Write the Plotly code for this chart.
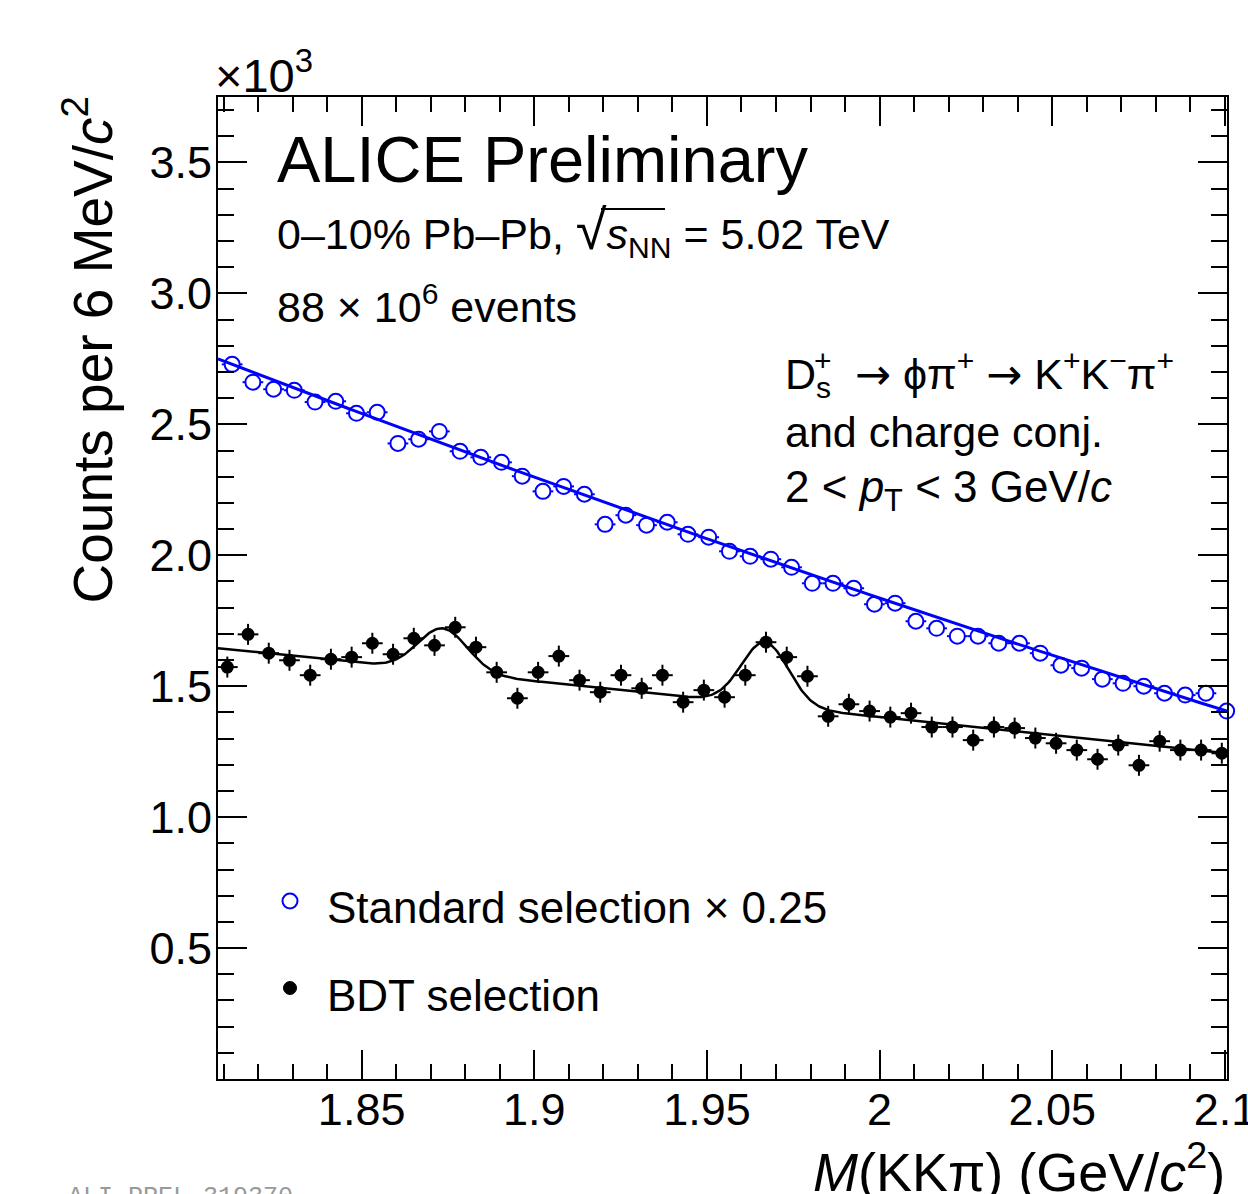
import numpy as np
import plotly.graph_objects as go

# ---------------- data (counts in units of 10^3 per 6 MeV/c^2) ----------------
bin_width = 0.006
blue_first_center = 1.8125
black_first_center = 1.8111

blue_counts = [2.729, 2.661, 2.634, 2.630, 2.585, 2.588, 2.542, 2.546, 2.427, 2.443,
               2.473, 2.397, 2.374, 2.355, 2.302, 2.244, 2.263, 2.233, 2.118, 2.153,
               2.115, 2.126, 2.080, 2.069, 2.015, 1.996, 1.985, 1.954, 1.893, 1.893,
               1.874, 1.813, 1.817, 1.748, 1.721, 1.691, 1.691, 1.664, 1.664, 1.626,
               1.580, 1.569, 1.527, 1.511, 1.500, 1.473, 1.466, 1.473, 1.405]

black_counts = [1.573, 1.698, 1.626, 1.599, 1.542, 1.603, 1.611, 1.664, 1.622, 1.683,
                1.656, 1.725, 1.649, 1.553, 1.454, 1.553, 1.615, 1.523, 1.477, 1.542,
                1.492, 1.542, 1.439, 1.485, 1.458, 1.542, 1.668, 1.611, 1.538, 1.385,
                1.431, 1.405, 1.382, 1.397, 1.344, 1.344, 1.294, 1.344, 1.340, 1.302,
                1.282, 1.256, 1.221, 1.275, 1.198, 1.290, 1.256, 1.256, 1.244]

blue_err_y = 0.025
black_err_y = 0.040

# fit parameters
blue_fit_anchor_x = [1.8084, 1.962, 2.1005]
blue_fit_anchor_y = [2.750, 2.008, 1.405]
bkg_x_ref = 1.8084
bkg_at_ref = 1.645
bkg_slope = -1.372
peak_means = [1.8735, 1.9668]
peak_sigmas = [0.0072, 0.0068]
peak_amps = [0.165, 0.240]

x_tick_vals = [1.85, 1.9, 1.95, 2.0, 2.05, 2.1]
x_tick_text = ["1.85", "1.9", "1.95", "2", "2.05", "2.1"]
y_tick_vals = [0.5, 1.0, 1.5, 2.0, 2.5, 3.0, 3.5]
y_tick_text = ["0.5", "1.0", "1.5", "2.0", "2.5", "3.0", "3.5"]
x_range = [1.8084, 2.1006]
y_range = [0.0, 3.75]

legend_labels = ["Standard selection \u00d7 0.25", "BDT selection"]

# ---------------- derived ----------------
blue_x = [blue_first_center + i * bin_width for i in range(len(blue_counts))]
black_x = [black_first_center + i * bin_width for i in range(len(black_counts))]

xf = np.linspace(x_range[0], x_range[1], 600)
blue_coef = np.polyfit(blue_fit_anchor_x, blue_fit_anchor_y, 2)
blue_fit = np.polyval(blue_coef, xf)
black_fit = bkg_at_ref + bkg_slope * (xf - bkg_x_ref)
for m, s, a in zip(peak_means, peak_sigmas, peak_amps):
    black_fit = black_fit + a * np.exp(-0.5 * ((xf - m) / s) ** 2)

FONT = "Liberation Sans, Arial, Helvetica, sans-serif"
BLUE = "#0000ff"

# plot-area geometry in pixels (for converting text positions to paper coords)
W, H = 1248, 1194
ML, MR, MT, MB = 218, 21, 97, 115
PW, PH = W - ML - MR, H - MT - MB


def px(xp):
    return (xp - ML) / PW


def py(yp):
    return (H - MB - yp) / PH


fig = go.Figure()

fig.add_trace(go.Scatter(
    x=blue_x, y=blue_counts, mode="markers", name=legend_labels[0],
    marker=dict(symbol="circle", size=15, color="white", line=dict(color=BLUE, width=2)),
    error_x=dict(type="constant", value=bin_width / 2, color=BLUE, thickness=2, width=0),
    error_y=dict(type="constant", value=blue_err_y, color=BLUE, thickness=2, width=0),
    cliponaxis=False, showlegend=False,
))
fig.add_trace(go.Scatter(
    x=black_x, y=black_counts, mode="markers", name=legend_labels[1],
    marker=dict(symbol="circle", size=13, color="black"),
    error_x=dict(type="constant", value=bin_width / 2, color="black", thickness=2, width=0),
    error_y=dict(type="constant", value=black_err_y, color="black", thickness=2, width=0),
    cliponaxis=False, showlegend=False,
))
fig.add_trace(go.Scatter(x=xf, y=blue_fit, mode="lines", line=dict(color=BLUE, width=3),
                         showlegend=False, hoverinfo="skip"))
fig.add_trace(go.Scatter(x=xf, y=black_fit, mode="lines", line=dict(color="black", width=2.5),
                         showlegend=False, hoverinfo="skip"))

axis_common = dict(
    showline=True, linecolor="black", linewidth=2, mirror="allticks",
    ticks="inside", ticklen=29, tickwidth=1.5, tickcolor="black",
    showgrid=False, zeroline=False, automargin=False,
    tickfont=dict(family=FONT, size=45, color="black"),
)

fig.update_xaxes(range=x_range, tickmode="array", tickvals=x_tick_vals, ticktext=x_tick_text,
                 minor=dict(dtick=0.01, tick0=1.8, ticks="inside", ticklen=15, tickwidth=1.5,
                            tickcolor="black", showgrid=False),
                 ticklabelstandoff=-10, ticklabeloverflow="allow", **axis_common)
fig.update_yaxes(range=y_range, tickmode="array", tickvals=y_tick_vals, ticktext=y_tick_text,
                 minor=dict(dtick=0.1, tick0=0, ticks="inside", ticklen=16, tickwidth=1.5,
                            tickcolor="black", showgrid=False),
                 ticklabelstandoff=-5, **axis_common)


def ann(text, xp, yp, size, xanchor="left", yanchor="middle", color="black", family=FONT, **kw):
    fig.add_annotation(text=text, x=px(xp), y=py(yp), xref="paper", yref="paper", showarrow=False,
                       xanchor=xanchor, yanchor=yanchor,
                       font=dict(family=family, size=size, color=color), **kw)


ARROW = '<span style="font-family:DejaVu Sans">\u2192</span>'

ann("ALICE Preliminary", 275, 160, 65)
ann("0\u201310% Pb\u2013Pb, <span style=\"font-size:56px\">\u221a</span><i>s</i><sub>NN</sub> = 5.02 TeV",
    275, 231, 43)
ann("88 \u00d7 10<sup>6</sup> events", 275, 304, 43)
ann("D<sub>s</sub>  " + ARROW + " \u03d5\u03c0<sup>+</sup> " + ARROW +
    " K<sup>+</sup>K<sup>\u2212</sup>\u03c0<sup>+</sup>", 783, 374, 43)
ann("+", 812, 360, 30)
ann("and charge conj.", 783, 432, 43)
ann("2 &lt; <i>p</i><sub>T</sub> &lt; 3 GeV/<i>c</i>", 783, 490, 44)
ann("\u00d710<sup>3</sup>", 213, 72, 47)
ann("Counts per 6 MeV/<i>c</i><sup>2</sup>", 88, 95, 55, xanchor="center", yanchor="top",
    textangle=-90)
ann("<i>M</i>(KK\u03c0) (GeV/<i>c</i><sup>2</sup>)", 1227, 1168, 54, xanchor="right")
ann("ALI-PREL-319370", 66, 1197, 25, color="#999999",
    family="Liberation Mono, Courier New, monospace")

# legend (drawn manually)
ann(legend_labels[0], 325, 907, 44)
ann(legend_labels[1], 325, 995, 44)
fig.add_shape(type="circle", xref="paper", yref="paper",
              x0=px(282.5), x1=px(297.5), y0=py(908.5), y1=py(893.5),
              line=dict(color=BLUE, width=2), fillcolor="white")
fig.add_shape(type="circle", xref="paper", yref="paper",
              x0=px(283.5), x1=px(296.5), y0=py(994.5), y1=py(981.5),
              line=dict(color="black", width=1), fillcolor="black")

# overline of the square root
fig.add_shape(type="line", xref="paper", yref="paper", x0=px(601), x1=px(665), y0=py(209), y1=py(209),
              line=dict(color="black", width=2))

fig.update_layout(
    width=W, height=H,
    margin=dict(l=ML, r=MR, t=MT, b=MB, autoexpand=False),
    paper_bgcolor="white", plot_bgcolor="white",
    showlegend=False,
)

fig.write_html("out.html")
